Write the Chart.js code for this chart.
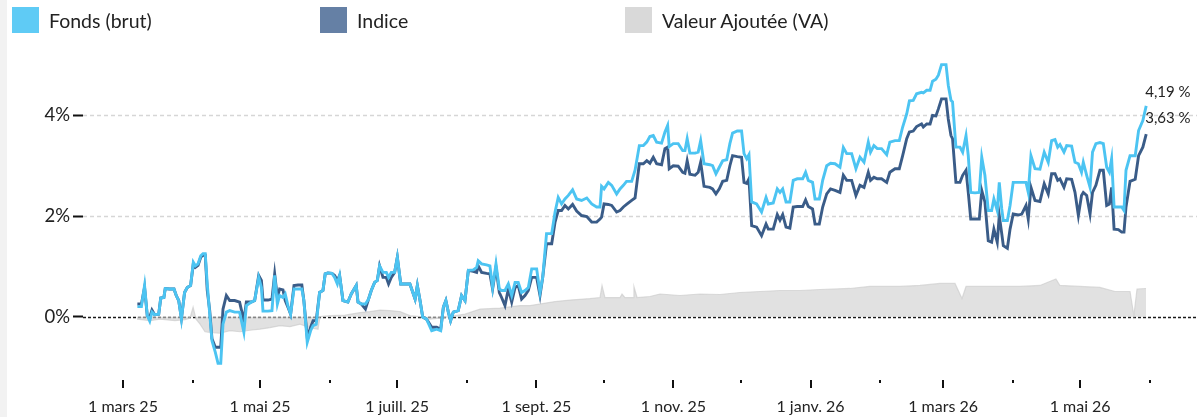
<!DOCTYPE html>
<html><head><meta charset="utf-8">
<script src="https://cdn.jsdelivr.net/npm/chart.js@4.4.0/dist/chart.umd.min.js"></script>
<style>
html,body{margin:0;padding:0;background:#fff;}
#wrap{position:relative;width:1203px;height:417px;overflow:hidden;background:#fff;}
#strip{position:absolute;left:0;top:0;width:7px;height:417px;background:#f2f2f2;}
canvas{position:absolute;left:0;top:0;}
.lg{position:absolute;top:7px;height:26px;display:flex;align-items:center;font:19.5px Lato, "Open Sans", sans-serif;color:#222;white-space:nowrap;}
.lg i{display:inline-block;width:27px;height:26px;margin-right:10px;}
</style></head><body>
<div id="wrap"><div id="strip"></div><canvas id="c" width="1203" height="417"></canvas><div id="legend"></div></div>
<script>
// Series names and colours
const seriesNames = ["Fonds (brut)", "Indice", "Valeur Ajoutée (VA)"];
const legendColors = ["#5fcbf5", "#6580a5", "#d9d9d9"];

// Days since 1 March 2025
const days = [6.4,8.2,9.6,10.8,11.9,12.9,14.1,15.9,16.8,18.2,18.8,20.8,22.7,23.7,24.8,26.0,27.4,28.6,30.1,31.3,32.2,33.4,34.6,35.6,36.6,37.5,38.6,39.6,41.1,42.3,43.5,44.5,46.0,47.5,49.7,51.9,53.8,54.9,57.1,58.6,60.4,61.6,62.3,64.5,66.3,67.5,68.7,69.7,71.2,72.2,73.4,74.6,76.1,77.9,79.6,80.5,82.0,83.5,84.6,86.0,87.5,89.0,90.0,91.2,93.0,94.2,95.4,96.4,97.9,100.1,101.6,103.8,104.6,106.1,107.9,109.3,110.5,112.0,113.2,114.2,115.7,117.2,118.2,119.4,120.9,122.1,123.6,126.1,127.7,130.0,131.0,132.2,133.4,135.1,137.4,139.6,141.4,142.6,143.7,144.8,145.8,147.0,149.2,150.7,152.2,153.7,155.9,157.4,158.1,159.6,161.8,163.3,164.5,166.0,167.5,168.5,170.0,171.5,173.0,174.5,175.9,177.4,178.9,180.4,181.9,184.1,185.6,186.8,188.5,190.8,192.3,193.7,195.2,196.7,198.2,200.1,201.9,204.1,206.4,208.6,210.8,212.3,213.0,214.1,216.0,217.5,219.7,221.2,222.7,224.1,226.4,227.9,229.8,231.6,233.1,234.5,236.0,237.5,239.7,241.2,242.4,243.1,244.9,247.1,249.1,250.1,251.1,252.3,254.6,256.0,257.1,258.6,261.2,262.4,263.9,265.4,266.9,268.7,270.1,271.3,273.4,275.3,276.4,277.6,278.6,279.8,282.0,284.2,286.2,287.2,289.4,291.2,292.4,293.6,295.1,296.8,298.3,300.1,302.5,303.8,305.0,306.9,308.0,309.9,311.4,313.2,314.9,316.9,319.1,320.6,322.1,324.3,326.2,328.0,329.8,331.7,332.7,334.2,335.7,337.6,339.9,341.3,343.6,345.5,347.0,348.8,350.0,351.7,353.2,355.4,356.2,357.7,359.2,360.3,361.8,362.9,364.3,366.3,367.3,368.5,369.2,370.7,372.5,373.7,375.2,376.2,377.3,379.2,381.1,382.2,383.6,385.1,386.6,387.6,389.1,390.0,391.1,391.8,393.6,394.8,396.2,398.5,400.0,401.9,402.9,404.1,405.9,408.1,410.0,411.8,413.3,414.8,416.0,417.0,418.8,420.0,422.2,423.7,425.2,426.6,427.4,428.9,430.4,431.5,433.0,434.8,436.3,437.8,439.0,440.0,441.1,443.0,444.5,445.5,446.4,448.2,450.5,452.0,453.9,455.4];

const fonds = [0.20,0.20,0.62,0.02,-0.09,0.09,0.04,0.05,0.37,0.38,0.56,0.55,0.55,0.42,0.32,-0.05,0.48,0.58,0.62,1.08,1.01,1.05,1.21,1.25,1.25,0.65,0.05,-0.48,-0.71,-0.93,-0.93,-0.15,0.09,0.12,0.09,0.09,-0.31,0.22,0.29,0.32,0.78,0.58,0.11,0.11,0.12,0.82,0.25,0.42,0.38,0.45,0.22,0.05,0.55,0.55,0.55,0.32,-0.51,-0.28,-0.18,-0.15,0.48,0.52,0.85,0.87,0.86,0.78,0.65,0.82,0.32,0.29,0.45,0.62,0.29,0.25,0.25,0.35,0.52,0.68,0.72,1.01,0.88,0.88,0.78,0.88,0.88,1.18,0.65,0.65,0.65,0.35,0.62,0.32,-0.01,-0.05,-0.28,-0.25,-0.28,0.19,0.32,0.09,-0.08,0.09,0.12,0.42,0.32,0.92,0.93,0.98,1.11,1.05,1.03,1.01,0.58,1.05,0.55,0.52,0.52,0.65,0.42,0.68,0.68,0.48,0.52,0.58,0.95,0.95,0.48,0.78,1.65,1.65,2.08,2.37,2.24,2.34,2.41,2.52,2.34,2.31,2.36,2.24,2.18,2.18,2.59,2.54,2.67,2.61,2.44,2.54,2.61,2.69,2.69,2.91,3.40,3.40,3.47,3.58,3.60,3.47,3.45,3.67,3.80,3.38,3.44,3.44,3.30,3.30,3.54,3.25,3.25,3.27,3.50,3.04,3.02,3.00,2.84,2.97,3.10,3.12,3.44,3.65,3.69,3.69,3.24,3.14,3.22,2.28,2.24,2.08,2.37,2.24,2.26,2.54,2.47,2.54,2.28,2.28,2.71,2.74,2.74,2.87,2.71,2.67,2.34,2.34,2.71,3.00,3.05,3.04,2.97,3.36,3.24,3.24,2.94,3.17,3.07,3.47,3.27,3.40,3.34,3.34,3.22,3.47,3.50,3.50,3.77,4.03,4.29,4.30,4.43,4.46,4.45,4.50,4.50,4.68,4.72,4.80,5.01,5.01,4.60,4.30,4.27,3.37,3.37,3.27,3.60,3.20,2.47,2.46,2.47,3.17,2.81,2.11,2.11,2.34,2.11,2.67,2.14,1.91,1.91,2.21,2.67,2.67,2.67,2.67,2.47,3.20,2.94,2.93,3.27,3.07,3.50,3.52,3.37,3.42,3.27,3.40,3.39,3.07,3.04,2.87,3.07,2.81,2.57,3.27,3.44,3.46,3.44,2.97,2.87,3.14,2.18,2.18,2.18,2.11,2.91,3.20,3.20,3.70,3.90,4.19];

const indice = [0.25,0.25,0.58,0.02,-0.01,0.13,0.04,0.05,0.37,0.38,0.56,0.55,0.55,0.42,0.32,-0.03,0.48,0.58,0.62,1.05,0.98,1.02,1.18,1.22,1.22,0.52,0.12,-0.44,-0.61,-0.61,-0.61,0.15,0.42,0.32,0.32,0.29,-0.08,0.29,0.29,0.32,0.82,0.72,0.33,0.33,0.35,0.85,0.38,0.55,0.53,0.32,0.19,0.05,0.62,0.63,0.63,0.32,-0.41,-0.21,-0.08,-0.08,0.48,0.52,0.85,0.87,0.86,0.82,0.72,0.82,0.32,0.29,0.45,0.62,0.29,0.25,0.15,0.35,0.52,0.68,0.72,1.01,0.78,0.78,0.65,0.78,0.88,1.18,0.65,0.65,0.65,0.35,0.62,0.32,-0.01,-0.05,-0.21,-0.21,-0.25,0.19,0.32,0.09,-0.08,0.09,0.12,0.42,0.32,0.92,0.90,0.88,1.01,0.88,0.86,0.85,0.55,0.98,0.48,0.38,0.22,0.55,0.29,0.58,0.62,0.35,0.42,0.52,0.78,0.78,0.42,0.78,1.45,1.45,1.88,2.11,2.11,2.21,2.14,2.23,2.10,2.01,1.99,1.88,1.88,1.94,1.98,2.24,2.23,2.21,2.08,2.11,2.18,2.23,2.31,2.36,3.04,3.04,3.10,3.05,3.17,3.04,3.02,3.34,3.37,2.94,3.00,2.99,2.87,2.85,3.10,2.83,2.81,2.87,3.07,2.59,2.57,2.54,2.44,2.54,2.69,2.71,3.00,3.20,3.18,3.17,2.67,2.65,2.74,1.81,1.78,1.61,1.84,1.74,1.74,2.03,1.92,2.03,1.78,1.76,2.18,2.19,2.19,2.32,2.19,2.14,1.84,1.84,2.18,2.44,2.54,2.51,2.47,2.81,2.71,2.71,2.41,2.61,2.57,2.87,2.71,2.77,2.74,2.74,2.67,2.87,2.94,2.94,3.20,3.54,3.67,3.69,3.78,3.83,3.77,3.83,3.83,4.00,3.99,4.13,4.33,4.33,3.93,3.60,3.54,2.67,2.67,2.81,2.91,2.47,1.94,1.94,1.94,2.51,2.28,1.51,1.48,1.74,1.48,2.01,1.65,1.41,1.36,1.74,2.04,2.02,2.04,2.21,1.94,2.57,2.31,2.29,2.64,2.44,2.84,2.84,2.71,2.74,2.57,2.74,2.73,2.47,2.01,2.41,2.47,2.41,2.04,2.47,2.61,2.91,2.91,2.21,2.24,2.57,1.74,1.73,1.68,1.68,2.18,2.69,2.73,3.20,3.37,3.63];

// Valeur Ajoutée (VA)
const vaDays = [6.2,12.0,16.5,23.1,27.6,29.8,31.2,32.5,34.3,36.5,39.6,43.2,47.6,52.1,56.5,61.0,65.4,69.9,74.3,78.8,83.2,86.8,87.7,92.1,98.8,105.5,109.9,114.4,118.8,123.3,127.7,132.2,136.6,141.1,147.8,152.2,158.9,167.8,176.7,181.1,192.3,198.9,207.8,212.3,213.2,214.5,221.2,222.1,223.4,227.0,227.4,228.8,234.5,239.0,247.9,256.8,265.7,274.6,283.5,292.4,301.3,310.2,323.5,332.4,345.8,354.7,363.6,370.3,373.4,375.2,385.8,399.2,408.1,415.2,417.0,425.9,434.8,441.5,448.2,449.9,451.3,455.3];
const vaValues = [-0.05,-0.08,-0.05,-0.08,-0.06,-0.03,0.19,-0.05,-0.15,-0.30,-0.32,-0.33,-0.28,-0.30,-0.27,-0.25,-0.22,-0.18,-0.20,-0.15,-0.22,-0.25,0.0,0.02,0.03,0.08,0.10,0.13,0.12,0.10,0.02,0.00,-0.05,-0.03,0.02,0.05,0.15,0.17,0.22,0.22,0.30,0.33,0.36,0.38,0.62,0.38,0.38,0.45,0.38,0.38,0.60,0.38,0.40,0.45,0.42,0.45,0.44,0.48,0.50,0.52,0.52,0.54,0.56,0.60,0.60,0.62,0.66,0.66,0.36,0.60,0.60,0.60,0.62,0.75,0.62,0.60,0.58,0.50,0.50,0.02,0.55,0.56];

// Axis ticks
const yTicks = [0, 2, 4];
const yTickLabels = ["0%", "2%", "4%"];
const xTickDays = [0,31,61,92,122,153,184,214,245,275,306,337,365,396,426,457];
const xTickLabels = ["1 mars 25","","1 mai 25","","1 juill. 25","","1 sept. 25","","1 nov. 25","","1 janv. 26","","1 mars 26","","1 mai 26",""];
const endLabels = ["4,19 %", "3,63 %"];

// Legend (HTML)
const legendLeft = [12, 320, 625];
const lg = document.getElementById('legend');
seriesNames.forEach((n, i) => {
  const d = document.createElement('div');
  d.className = 'lg';
  d.style.left = legendLeft[i] + 'px';
  d.innerHTML = '<i style="background:' + legendColors[i] + '"></i><span></span>';
  d.querySelector('span').textContent = n;
  lg.appendChild(d);
});

const FONT = 'Lato, "Open Sans", sans-serif';
const toPts = (xs, ys) => xs.map((x, i) => ({x: x, y: ys[i]}));

const decor = {
  id: 'decor',
  beforeDatasetsDraw(chart) {
    const {ctx, chartArea: a, scales: {y}} = chart;
    ctx.save();
    yTicks.forEach(v => {
      const py = Math.round(y.getPixelForValue(v)) + 0.5;
      ctx.beginPath();
      if (v === 0) { ctx.strokeStyle = '#1a1a1a'; ctx.lineWidth = 1.6; ctx.setLineDash([3, 2]); }
      else { ctx.strokeStyle = '#d6d6d6'; ctx.lineWidth = 1.3; ctx.setLineDash([4, 3]); }
      ctx.moveTo(a.left, py); ctx.lineTo(a.right, py); ctx.stroke();
    });
    ctx.restore();
  },
  afterDatasetsDraw(chart) {
    const {ctx, chartArea: a, scales: {x}} = chart;
    ctx.save();
    ctx.strokeStyle = '#111'; ctx.lineWidth = 2; ctx.setLineDash([]);
    xTickDays.forEach((d, i) => {
      const px = Math.round(x.getPixelForValue(d));
      const major = xTickLabels[i] !== '';
      ctx.beginPath();
      ctx.moveTo(px, a.bottom + 3);
      ctx.lineTo(px, a.bottom + (major ? 11 : 6));
      ctx.stroke();
    });
    ctx.fillStyle = '#222';
    ctx.font = '15px ' + FONT;
    ctx.textAlign = 'left'; ctx.textBaseline = 'middle';
    const offs = [-14, -16];
    [0, 1].forEach(k => {
      const pts = chart.getDatasetMeta(k).data;
      const p = pts[pts.length - 1];
      ctx.fillText(endLabels[k], p.x - 1, p.y + offs[k]);
    });
    ctx.restore();
  }
};

new Chart(document.getElementById('c'), {
  type: 'line',
  data: { datasets: [
    { label: seriesNames[0], data: toPts(days, fonds), borderColor: '#4cc4f2', borderWidth: 2.9, pointRadius: 0, tension: 0, fill: false, order: 0 },
    { label: seriesNames[1], data: toPts(days, indice), borderColor: '#3a5c88', borderWidth: 2.9, pointRadius: 0, tension: 0, fill: false, order: 1 },
    { label: seriesNames[2], data: toPts(vaDays, vaValues), borderColor: 'rgba(200,200,200,0.6)', borderWidth: 1.2, backgroundColor: 'rgba(205,205,205,0.6)', pointRadius: 0, tension: 0, fill: 'origin', order: 2 }
  ]},
  options: {
    responsive: false, animation: false, devicePixelRatio: 1,
    layout: { padding: { top: 40, left: 0, right: 6, bottom: 0 } },
    plugins: { legend: { display: false }, tooltip: { enabled: false } },
    scales: {
      x: {
        type: 'linear', min: -17.8, max: 478,
        afterBuildTicks: s => { s.ticks = xTickDays.map(v => ({ value: v })); },
        afterFit: s => { s.height = 40; },
        ticks: { autoSkip: false, maxRotation: 0, minRotation: 0, padding: 20, color: '#222', font: { family: FONT, size: 16 },
                 callback: (v, i) => xTickLabels[i] },
        grid: { display: false, drawTicks: false },
        border: { display: false }
      },
      y: {
        min: -1.2, max: 5.5,
        afterBuildTicks: s => { s.ticks = yTicks.map(v => ({ value: v })); },
        afterFit: s => { s.width = 83; },
        ticks: { padding: 3, color: '#222', font: { family: FONT, size: 18.5 }, callback: (v, i) => yTickLabels[i] },
        grid: { drawOnChartArea: false, drawTicks: true, tickLength: 10, tickColor: '#111', tickWidth: 2 },
        border: { display: false }
      }
    }
  },
  plugins: [decor]
});
</script>
</body></html>
